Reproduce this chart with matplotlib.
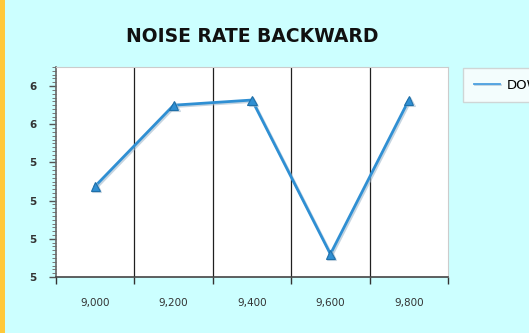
import matplotlib
matplotlib.use("Agg")
import matplotlib.pyplot as plt
import matplotlib.patheffects as pe
from matplotlib.patches import Rectangle
from matplotlib.ticker import FixedLocator, MultipleLocator

categories = ["9,000", "9,200", "9,400", "9,600", "9,800"]
values = [5.276, 5.70, 5.727, 4.92, 5.727]
series_name = "DOWN"
title = "NOISE RATE BACKWARD"
y_ticks = [4.8, 5.0, 5.2, 5.4, 5.6, 5.8]
y_tick_labels = ["5", "5", "5", "5", "6", "6"]

fig = plt.figure(figsize=(5.29, 3.33), dpi=100)
fig.patch.set_facecolor("#CCFFFF")
fig.patches.append(Rectangle((0, 0), 5 / 529, 1, transform=fig.transFigure,
                             facecolor="#FFC83A", edgecolor="none", zorder=0))

ax = fig.add_axes([56 / 529, 56 / 333, 392 / 529, 210 / 333])
ax.set_facecolor("white")

x = list(range(len(categories)))
line, = ax.plot(x, values, color="#2F8FD3", lw=2.0, marker="^", ms=6.5,
                markerfacecolor="#2F8FD3", markeredgecolor="#1F6FA8",
                markeredgewidth=0.8, label=series_name, zorder=5)
line.set_path_effects([pe.SimpleLineShadow(offset=(1, -1), shadow_color="#9FB8CC", alpha=0.6),
                       pe.Normal()])

for b in [0.5, 1.5, 2.5, 3.5]:
    ax.axvline(b, color="#202020", lw=0.9, zorder=1)

ax.set_xlim(-0.5, len(categories) - 0.5)
ax.set_ylim(4.8, 5.9)
ax.set_xticks(x)
ax.set_xticklabels(categories, fontsize=7.5, color="#333333")
ax.xaxis.set_minor_locator(FixedLocator([-0.5, 0.5, 1.5, 2.5, 3.5, 4.5]))
ax.tick_params(axis="x", which="major", length=0, pad=15)
ax.tick_params(axis="x", which="minor", length=5, width=1, color="#333333")

ax.set_yticks(y_ticks)
ax.set_yticklabels(y_tick_labels, fontsize=7.5, color="#333333", fontweight="bold")
ax.yaxis.set_minor_locator(MultipleLocator(0.02))
ax.tick_params(axis="y", which="major", length=5, width=1, color="#555555", pad=9)
ax.tick_params(axis="y", which="minor", length=3, width=0.7, color="#777777")

ax.spines["left"].set_color("#666666")
ax.spines["left"].set_linewidth(1.2)
ax.spines["bottom"].set_color("#444444")
ax.spines["bottom"].set_linewidth(1.2)
ax.spines["top"].set_color("#CCCCCC")
ax.spines["right"].set_color("#CCCCCC")

fig.text(252 / 529, 1 - 37 / 333, title, ha="center", va="center",
         fontsize=13.5, fontweight="bold", color="#111111")

leg = fig.legend(handles=[line], labels=[series_name], loc="upper left",
                 bbox_to_anchor=(463 / 529, 1 - 68 / 333), borderaxespad=0,
                 frameon=True, fontsize=9.5, handlelength=2.0, handletextpad=0.5,
                 borderpad=0.8, fancybox=False)
leg.legend_handles[0].set_marker("")
leg.legend_handles[0].set_linewidth(1.3)
leg.legend_handles[0].set_color("#4A9FE0")
leg.get_frame().set_edgecolor("#CCCCCC")
leg.get_frame().set_facecolor("#FDFDFD")

fig.savefig("out.png", dpi=100, facecolor=fig.get_facecolor())
